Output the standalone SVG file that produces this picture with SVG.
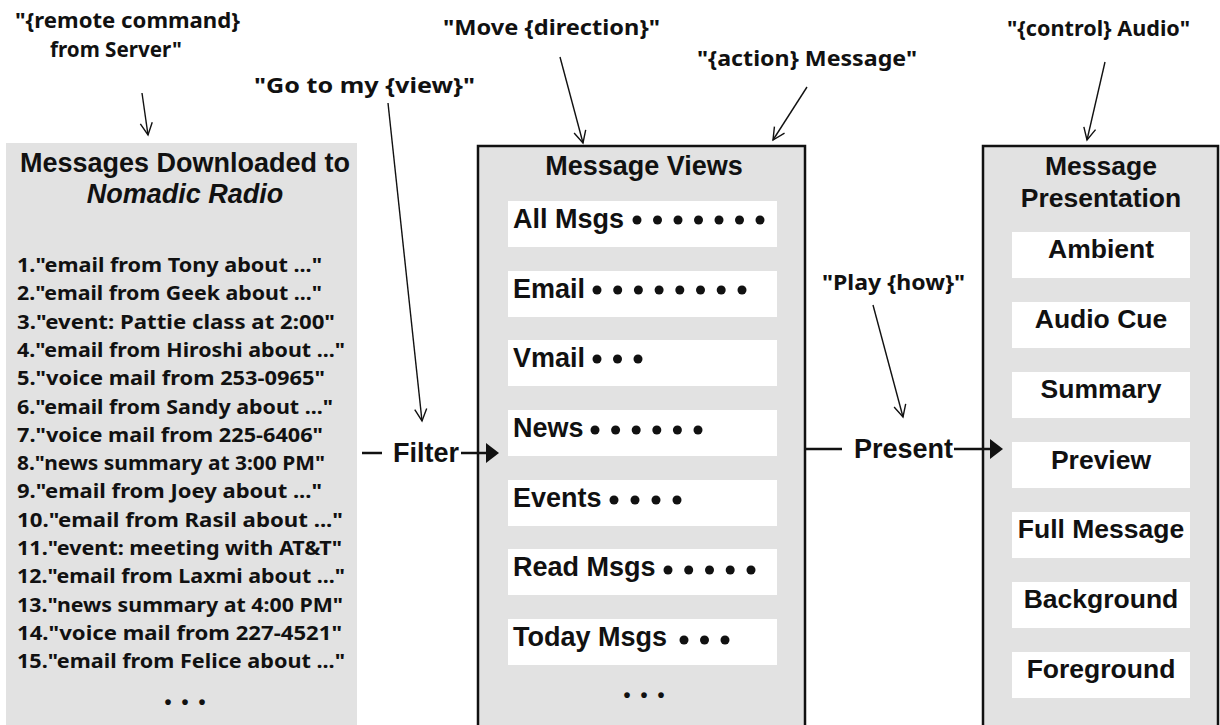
<svg xmlns="http://www.w3.org/2000/svg" width="1220" height="725" viewBox="0 0 1220 725">
<defs>
<style>
.panel{fill:#e2e2e2}
.box{fill:#e2e2e2;stroke:#111;stroke-width:2.5}
.row{fill:#ffffff}
.title{font-family:"Liberation Sans",Arial,sans-serif;font-weight:bold;font-size:27px;fill:#111}
.item{font-family:"Liberation Sans",Arial,sans-serif;font-weight:bold;font-size:27px;fill:#111}
.pres{font-family:"Liberation Sans",Arial,sans-serif;font-weight:bold;font-size:26.5px;fill:#111;text-anchor:middle}
.hand{font-family:"Noto Sans",sans-serif;font-weight:bold;font-size:21px;fill:#111}
.list{font-family:"Noto Sans",sans-serif;font-weight:bold;font-size:20px;fill:#111}
.dot{fill:#111}
.ell{font-family:"Liberation Sans",Arial,sans-serif;font-weight:bold;font-size:20px;fill:#111;letter-spacing:10px}
.ann{stroke:#111;stroke-width:1.4;fill:none}
.conn{stroke:#111;stroke-width:2.5;fill:none}
</style>
<marker id="open" markerUnits="userSpaceOnUse" markerWidth="20" markerHeight="20" refX="13" refY="7" orient="auto">
<path d="M1,1 L13,7 L1,13" fill="none" stroke="#111" stroke-width="1.4"/>
</marker>
</defs>
<rect width="1220" height="725" fill="#ffffff"/>

<g id="messages-downloaded">
<rect class="panel" x="6" y="143" width="351" height="590"/>
<text class="title" x="185" y="172" text-anchor="middle">Messages Downloaded to</text>
<text class="title" x="185" y="203" text-anchor="middle" font-style="italic">Nomadic Radio</text>
<g class="list">
<text x="17" y="272" textLength="305" lengthAdjust="spacingAndGlyphs">1."email from Tony about ..."</text>
<text x="17" y="300.3" textLength="305" lengthAdjust="spacingAndGlyphs">2."email from Geek about ..."</text>
<text x="17" y="328.6" textLength="318" lengthAdjust="spacingAndGlyphs">3."event: Pattie class at 2:00"</text>
<text x="17" y="356.9" textLength="328" lengthAdjust="spacingAndGlyphs">4."email from Hiroshi about ..."</text>
<text x="17" y="385.2" textLength="308" lengthAdjust="spacingAndGlyphs">5."voice mail from 253-0965"</text>
<text x="17" y="413.5" textLength="316" lengthAdjust="spacingAndGlyphs">6."email from Sandy about ..."</text>
<text x="17" y="441.8" textLength="306" lengthAdjust="spacingAndGlyphs">7."voice mail from 225-6406"</text>
<text x="17" y="470.1" textLength="308" lengthAdjust="spacingAndGlyphs">8."news summary at 3:00 PM"</text>
<text x="17" y="498.4" textLength="305" lengthAdjust="spacingAndGlyphs">9."email from Joey about ..."</text>
<text x="17" y="526.7" textLength="326" lengthAdjust="spacingAndGlyphs">10."email from Rasil about ..."</text>
<text x="17" y="555" textLength="325" lengthAdjust="spacingAndGlyphs">11."event: meeting with AT&amp;T"</text>
<text x="17" y="583.3" textLength="328" lengthAdjust="spacingAndGlyphs">12."email from Laxmi about ..."</text>
<text x="17" y="611.6" textLength="326" lengthAdjust="spacingAndGlyphs">13."news summary at 4:00 PM"</text>
<text x="17" y="639.9" textLength="325" lengthAdjust="spacingAndGlyphs">14."voice mail from 227-4521"</text>
<text x="17" y="668.2" textLength="328" lengthAdjust="spacingAndGlyphs">15."email from Felice about ..."</text>
</g>
<text class="ell" x="164.5" y="709">•••</text>
</g>

<g id="message-views">
<rect class="box" x="478" y="146" width="327" height="600"/>
<text class="title" x="644" y="175" text-anchor="middle">Message Views</text>
<g id="view-all">
<rect class="row" x="508" y="201" width="269" height="46"/>
<text class="item" x="513" y="228">All Msgs</text>
<g class="dot"><circle cx="637" cy="220" r="4.5"/><circle cx="657.5" cy="220" r="4.5"/><circle cx="678" cy="220" r="4.5"/><circle cx="698.5" cy="220" r="4.5"/><circle cx="719" cy="220" r="4.5"/><circle cx="739.5" cy="220" r="4.5"/><circle cx="760" cy="220" r="4.5"/></g>
</g>
<g id="view-email">
<rect class="row" x="508" y="271" width="269" height="46"/>
<text class="item" x="513" y="298">Email</text>
<g class="dot"><circle cx="597" cy="290" r="4.5"/><circle cx="617.7" cy="290" r="4.5"/><circle cx="638.4" cy="290" r="4.5"/><circle cx="659.1" cy="290" r="4.5"/><circle cx="679.8" cy="290" r="4.5"/><circle cx="700.5" cy="290" r="4.5"/><circle cx="721.2" cy="290" r="4.5"/><circle cx="742" cy="290" r="4.5"/></g>
</g>
<g id="view-vmail">
<rect class="row" x="508" y="340" width="269" height="46"/>
<text class="item" x="513" y="367">Vmail</text>
<g class="dot"><circle cx="597" cy="359" r="4.5"/><circle cx="617.5" cy="359" r="4.5"/><circle cx="638" cy="359" r="4.5"/></g>
</g>
<g id="view-news">
<rect class="row" x="508" y="410" width="269" height="46"/>
<text class="item" x="513" y="437">News</text>
<g class="dot"><circle cx="595" cy="430" r="4.5"/><circle cx="615.6" cy="430" r="4.5"/><circle cx="636.2" cy="430" r="4.5"/><circle cx="656.8" cy="430" r="4.5"/><circle cx="677.4" cy="430" r="4.5"/><circle cx="698" cy="430" r="4.5"/></g>
</g>
<g id="view-events">
<rect class="row" x="508" y="480" width="269" height="46"/>
<text class="item" x="513" y="507">Events</text>
<g class="dot"><circle cx="614" cy="500" r="4.5"/><circle cx="635" cy="500" r="4.5"/><circle cx="656" cy="500" r="4.5"/><circle cx="677" cy="500" r="4.5"/></g>
</g>
<g id="view-read">
<rect class="row" x="508" y="549" width="269" height="46"/>
<text class="item" x="513" y="576">Read Msgs</text>
<g class="dot"><circle cx="668" cy="570" r="4.5"/><circle cx="688.7" cy="570" r="4.5"/><circle cx="709.5" cy="570" r="4.5"/><circle cx="730.2" cy="570" r="4.5"/><circle cx="751" cy="570" r="4.5"/></g>
</g>
<g id="view-today">
<rect class="row" x="508" y="619" width="269" height="46"/>
<text class="item" x="513" y="646">Today Msgs</text>
<g class="dot"><circle cx="684" cy="640" r="4.5"/><circle cx="704.5" cy="640" r="4.5"/><circle cx="725" cy="640" r="4.5"/></g>
</g>
<text class="ell" x="623.5" y="702">•••</text>
</g>

<g id="message-presentation">
<rect class="box" x="983" y="146" width="235" height="600"/>
<text class="pres" x="1101" y="175" font-size="27px">Message</text>
<text class="pres" x="1101" y="207" font-size="27px">Presentation</text>
<g id="pres-ambient"><rect class="row" x="1012" y="232" width="178" height="46"/><text class="pres" x="1101" y="258">Ambient</text></g>
<g id="pres-cue"><rect class="row" x="1012" y="302" width="178" height="46"/><text class="pres" x="1101" y="328">Audio Cue</text></g>
<g id="pres-summary"><rect class="row" x="1012" y="372" width="178" height="46"/><text class="pres" x="1101" y="398">Summary</text></g>
<g id="pres-preview"><rect class="row" x="1012" y="442" width="178" height="46"/><text class="pres" x="1101" y="469">Preview</text></g>
<g id="pres-full"><rect class="row" x="1012" y="512" width="178" height="46"/><text class="pres" x="1101" y="538">Full Message</text></g>
<g id="pres-background"><rect class="row" x="1012" y="582" width="178" height="46"/><text class="pres" x="1101" y="608">Background</text></g>
<g id="pres-foreground"><rect class="row" x="1012" y="652" width="178" height="46"/><text class="pres" x="1101" y="678">Foreground</text></g>
</g>

<g id="annotations">
<text class="hand" x="15" y="28" textLength="225" lengthAdjust="spacingAndGlyphs">"{remote command}</text>
<text class="hand" x="50" y="57" textLength="132" lengthAdjust="spacingAndGlyphs">from Server"</text>
<text class="hand" x="254" y="93" textLength="221" lengthAdjust="spacingAndGlyphs">"Go to my {view}"</text>
<text class="hand" x="443" y="35" textLength="217" lengthAdjust="spacingAndGlyphs">"Move {direction}"</text>
<text class="hand" x="697" y="66" textLength="220" lengthAdjust="spacingAndGlyphs">"{action} Message"</text>
<text class="hand" x="1007" y="36" textLength="183" lengthAdjust="spacingAndGlyphs">"{control} Audio"</text>
<text class="hand" x="822" y="290" textLength="143" lengthAdjust="spacingAndGlyphs">"Play {how}"</text>
</g>

<g id="connectors">
<line class="ann" x1="142" y1="93" x2="148" y2="135" marker-end="url(#open)"/>
<line class="ann" x1="388" y1="103" x2="422" y2="421" marker-end="url(#open)"/>
<line class="ann" x1="560" y1="57" x2="583" y2="143" marker-end="url(#open)"/>
<line class="ann" x1="807" y1="87" x2="773" y2="140" marker-end="url(#open)"/>
<line class="ann" x1="1105" y1="62" x2="1087" y2="140" marker-end="url(#open)"/>
<line class="ann" x1="873" y1="305" x2="903" y2="417" marker-end="url(#open)"/>
<g id="filter">
<line class="conn" x1="362" y1="453" x2="382" y2="453"/>
<text class="item" x="393" y="462" font-size="26.5px">Filter</text>
<line class="conn" x1="461" y1="453" x2="488" y2="453"/>
<polygon points="486,443 499,453 486,463" fill="#111"/>
</g>
<g id="present">
<line class="conn" x1="805" y1="449" x2="842" y2="449"/>
<text class="item" x="854" y="458" font-size="26px">Present</text>
<line class="conn" x1="954" y1="449" x2="992" y2="449"/>
<polygon points="990,439 1003,449 990,459" fill="#111"/>
</g>
</g>
</svg>
